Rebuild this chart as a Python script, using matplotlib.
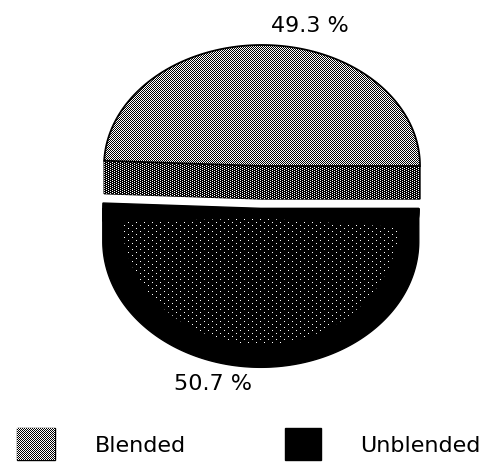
import numpy as np
import matplotlib
matplotlib.use("Agg")
import matplotlib.pyplot as plt
from matplotlib.patches import Polygon, Rectangle

# Data
categories = ["Blended", "Unblended"]
shares = [49.3, 50.7]
pct_labels = ["49.3 %", "50.7 %"]

W, H = 502, 462
fig = plt.figure(figsize=(W / 100, H / 100), dpi=100)
ax = fig.add_axes([0, 0, 1, 1])
ax.set_xlim(0, W)
ax.set_ylim(H, 0)
ax.axis("off")

# pie geometry (pixel units, y down)
cx, cy = 262, 166
rx = 158
ry_back, ry_front = 121, 126   # front half drawn a bit deeper
depth = 33
explode = 0.35

FONT = dict(family="DejaVu Sans", fontsize=16, color="black")

# halftone fills (staggered dot screens)
yy, xx = np.mgrid[0:H, 0:W]
checker = ((xx + yy) % 2).astype(float)
dark_dots = (((xx % 4 == 0) & (yy % 2 == 0)) |
             ((xx % 4 == 2) & (yy % 2 == 1))).astype(float)
sparse_dots = (((xx % 8 == 0) & (yy % 6 == 0)) |
               ((xx % 8 == 4) & (yy % 6 == 3))).astype(float)


def texture(arr, clip, z):
    im = ax.imshow(arr, cmap="gray", vmin=0, vmax=1, extent=(0, W, H, 0),
                   interpolation="nearest", aspect="auto", zorder=z)
    im.set_clip_path(clip)


def arc(a0, a1, x0, y0, n=300):
    t = np.radians(np.linspace(a0, a1, n))
    r_y = np.where(np.sin(t) > 0, ry_back, ry_front)
    return np.column_stack([x0 + rx * np.cos(t), y0 - r_y * np.sin(t)])


theta = np.concatenate([[0.0], np.cumsum(shares)]) / sum(shares) * 360.0

# --- Blended slice (back, not exploded) ---
a0, a1 = theta[0], theta[1]
top = np.vstack([[cx, cy], arc(a0, a1, cx, cy)])
face = Polygon(top, closed=True, facecolor="#8c8c8c", edgecolor="none", zorder=2)
ax.add_patch(face)
texture(checker, face, 3)
ax.add_patch(Polygon(top, closed=True, fill=False, edgecolor="black", lw=1.3, zorder=6))

p_r = arc(a0, a0, cx, cy)[0]
p_l = arc(a1, a1, cx, cy)[0]
cut = np.array([p_l, [cx, cy], p_r, p_r + [0, depth], [cx, cy + depth], p_l + [0, depth]])
side = Polygon(cut, closed=True, facecolor="#202020", edgecolor="black", lw=1, zorder=2)
ax.add_patch(side)
texture(dark_dots, side, 3)

# --- Unblended slice (front, exploded) ---
b0, b1 = theta[1], theta[2]
mid = np.radians((b0 + b1) / 2)
ox = cx + explode * rx * np.cos(mid)
oy = cy - explode * ry_back * np.sin(mid)
front = np.vstack([[ox, oy], arc(b0, b1, ox, oy)])
ax.add_patch(Polygon(front, closed=True, facecolor="black", edgecolor="black", lw=1, zorder=2))
rim_top = arc(max(b0, 180), b1, ox, oy)
rim = np.vstack([rim_top, rim_top[::-1] + [0, depth]])
ax.add_patch(Polygon(rim, closed=True, facecolor="black", edgecolor="black", lw=1, zorder=2))

inner = np.vstack([[ox, oy + 10], arc(b0 + 4, b1 - 4, ox, oy + 10)])
inner[:, 0] = ox + (inner[:, 0] - ox) * 0.88
inner_patch = Polygon(inner, closed=True, facecolor="none", edgecolor="none")
ax.add_patch(inner_patch)
texture(sparse_dots, inner_patch, 3)

# percentage labels
ax.text(310, 32, pct_labels[0], ha="center", va="baseline", **FONT)
ax.text(213, 390, pct_labels[1], ha="center", va="baseline", **FONT)

# legend
sw1 = Rectangle((17, 428), 38, 32, facecolor="#8c8c8c", edgecolor="black", lw=1, zorder=2)
ax.add_patch(sw1)
texture(checker, sw1, 3)
ax.add_patch(Rectangle((285, 428), 36, 32, facecolor="black", edgecolor="black", lw=1, zorder=2))
ax.text(140, 452, categories[0], ha="center", va="baseline", **FONT)
ax.text(420, 452, categories[1], ha="center", va="baseline", **FONT)

fig.savefig("out.png", dpi=100)
